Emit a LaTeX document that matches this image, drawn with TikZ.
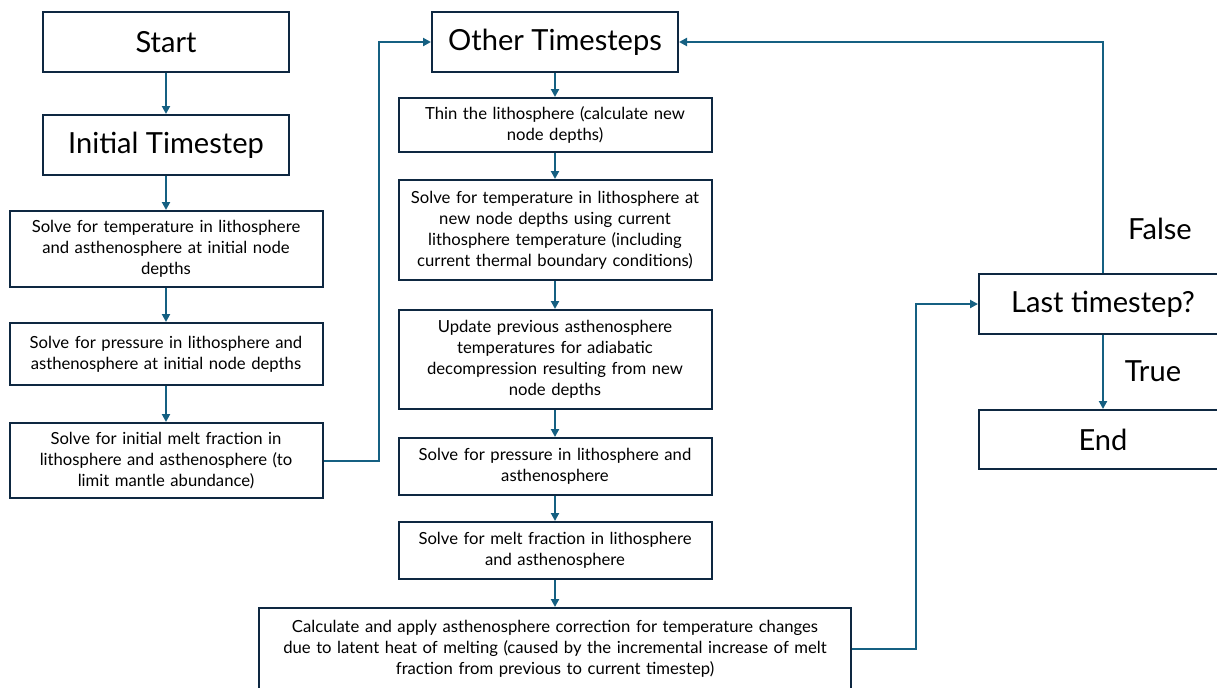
\documentclass[tikz,border=0pt]{standalone}
\usepackage{fontspec}
\setmainfont{Lato}
\usetikzlibrary{positioning,arrows.meta}
\definecolor{boxline}{HTML}{0E2841}
\definecolor{flowline}{HTML}{156082}
\tikzset{
  bigbox/.style={draw=boxline, line width=1.5pt, minimum width=184.5pt,
    minimum height=45pt, inner sep=0pt, font=\fontsize{21.8}{26}\selectfont},
  stepbox/.style={draw=boxline, line width=1.5pt, minimum width=234.75pt,
    text width=230pt, align=center, inner sep=0pt,
    font=\fontsize{12.5}{15.75}\selectfont},
  flow/.style={draw=flowline, line width=1.5pt, -{Triangle[length=6pt,width=6pt]}},
  lbl/.style={font=\fontsize{21.8}{26}\selectfont},
}

\begin{document}
\begin{tikzpicture}[x=0.75pt,y=-0.75pt]
  \useasboundingbox (0,0) rectangle (1217,687);
  \clip (0,0) rectangle (1217,687);

  % first column
  \node[bigbox] (start) at (166,42) {Start};
  \node[bigbox, below=30.75pt of start] (init) {Initial Timestep};
  \node[stepbox, minimum height=57pt, below=25.5pt of init] (inittemp)
    {Solve for temperature in lithosphere\\and asthenosphere at initial node\\depths};
  \node[stepbox, minimum height=46.5pt, below=25.5pt of inittemp] (initpres)
    {Solve for pressure in lithosphere and\\asthenosphere at initial node depths};
  \node[stepbox, minimum height=56.25pt, below=27pt of initpres] (initmelt)
    {Solve for initial melt fraction in\\lithosphere and asthenosphere (to\\limit mantle abundance)};

  % second column
  \node[bigbox] (other) at (555,42) {Other Timesteps};
  \node[stepbox, minimum height=40.5pt, below=18pt of other] (thin)
    {Thin the lithosphere (calculate new\\node depths)};
  \node[stepbox, minimum height=75pt, below=19.5pt of thin] (newtemp)
    {Solve for temperature in lithosphere at\\new node depths using current\\lithosphere temperature (including\\current thermal boundary conditions)};
  \node[stepbox, minimum height=74.25pt, below=21pt of newtemp] (adiab)
    {Update previous asthenosphere\\temperatures for adiabatic\\decompression resulting from new\\node depths};
  \node[stepbox, minimum height=42.75pt, below=20.25pt of adiab] (newpres)
    {Solve for pressure in lithosphere and\\asthenosphere};
  \node[stepbox, minimum height=42.75pt, below=18.75pt of newpres] (newmelt)
    {Solve for melt fraction in lithosphere\\and asthenosphere};
  \node[stepbox, minimum width=444pt, text width=440pt, minimum height=61.5pt,
    below=20.25pt of newmelt] (latent)
    {Calculate and apply asthenosphere correction for temperature changes\\due to latent heat of melting (caused by the incremental increase of melt\\fraction from previous to current timestep)};

  % decision
  \node[bigbox, minimum width=186pt] (last) at (1103,304) {Last timestep?};
  \node[bigbox, minimum width=186pt, minimum height=44.25pt] (finish) at (1103,439.5) {End};
  \node[lbl] (false) at (1160,229) {False};
  \node[lbl] (true) at (1153,371) {True};

  \draw[flow] (start) -- (init);
  \draw[flow] (init) -- (inittemp);
  \draw[flow] (inittemp) -- (initpres);
  \draw[flow] (initpres) -- (initmelt);
  \draw[flow] (initmelt.east) -- ++(41.25pt,0) |- (other.west);
  \draw[flow] (other) -- (thin);
  \draw[flow] (thin) -- (newtemp);
  \draw[flow] (newtemp) -- (adiab);
  \draw[flow] (adiab) -- (newpres);
  \draw[flow] (newpres) -- (newmelt);
  \draw[flow] (newmelt) -- (latent);
  \draw[flow] (latent.east) -- ++(48pt,0) |- (last.west);
  \draw[flow] (last.north) |- (other.east);
  \draw[flow] (last) -- (finish);
\end{tikzpicture}
\end{document}
